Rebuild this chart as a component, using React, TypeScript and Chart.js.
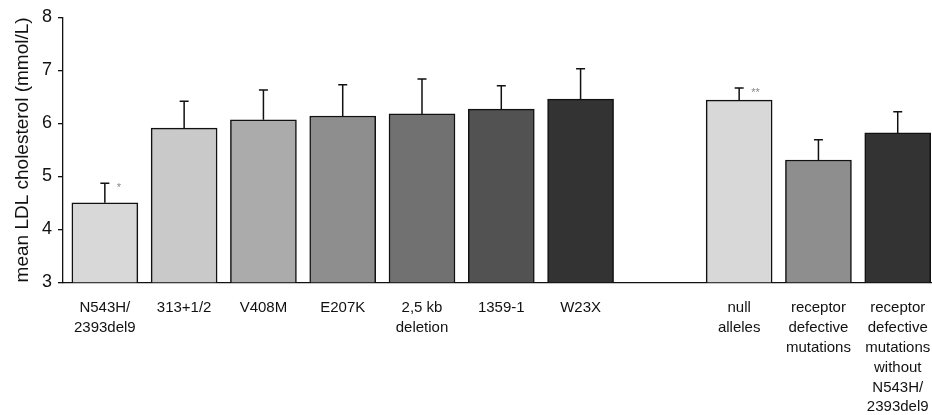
import React, { useEffect, useRef } from "react";
import { Chart, registerables } from "chart.js";

Chart.register(...registerables);

// ---- data ----
const categories: string[][] = [
  ["N543H/", "2393del9"],
  ["313+1/2"],
  ["V408M"],
  ["E207K"],
  ["2,5 kb", "deletion"],
  ["1359-1"],
  ["W23X"],
  [""],
  ["null", "alleles"],
  ["receptor", "defective", "mutations"],
  ["receptor", "defective", "mutations", "without", "N543H/", "2393del9"],
];
const means: (number | null)[] = [4.5, 5.91, 6.07, 6.14, 6.18, 6.27, 6.46, null, 6.44, 5.31, 5.82];
const errors: (number | null)[] = [0.37, 0.51, 0.56, 0.59, 0.66, 0.44, 0.57, null, 0.23, 0.38, 0.4];
const significance: string[] = ["*", "", "", "", "", "", "", "", "**", "", ""];
const yTicks: number[] = [3, 4, 5, 6, 7, 8];
const yTitle = "mean LDL cholesterol (mmol/L)";

// ---- styles ----
const barColors = [
  "#d8d8d8", "#c9c9c9", "#ababab", "#8e8e8e", "#717171", "#525252", "#333333",
  "#ffffff", "#d8d8d8", "#8e8e8e", "#333333",
];
const FONT = "'Liberation Sans', Arial, Helvetica, sans-serif";

const errorBarPlugin = {
  id: "errorBars",
  afterDatasetsDraw(chart: any) {
    const { ctx, scales } = chart;
    const xs = scales.x;
    const ys = scales.y;
    ctx.save();
    means.forEach((m, i) => {
      const e = errors[i];
      if (m == null || e == null) return;
      const x = xs.getPixelForValue(i);
      const yBar = ys.getPixelForValue(m);
      const yTop = ys.getPixelForValue(m + e);
      ctx.strokeStyle = "#111";
      ctx.lineWidth = 1.5;
      ctx.beginPath();
      ctx.moveTo(x, yBar);
      ctx.lineTo(x, yTop);
      ctx.moveTo(x - 4.5, yTop);
      ctx.lineTo(x + 4.5, yTop);
      ctx.stroke();
      const s = significance[i];
      if (s) {
        ctx.fillStyle = "#888";
        ctx.font = `11px ${FONT}`;
        ctx.textAlign = "left";
        ctx.textBaseline = "top";
        ctx.fillText(s, x + 12, yTop - 0.6);
      }
    });
    ctx.restore();
  },
};

export default function App() {
  const ref = useRef<HTMLCanvasElement>(null);

  useEffect(() => {
    if (!ref.current) return;
    const pitch = (932 - 63) / 10.96;
    const xMin = -(104.85 - 63) / pitch;
    const xMax = (932 - 104.85) / pitch;
    const chart = new Chart(ref.current, {
      type: "bar",
      data: {
        datasets: [
          {
            data: means.map((v, i) => ({ x: i, y: v })) as any,
            backgroundColor: barColors,
            borderColor: "#111",
            borderWidth: 1.5,
            barThickness: 66,
          },
        ],
      },
      options: {
        responsive: false,
        animation: false,
        layout: { padding: { top: 17.5, left: 0, right: 0, bottom: 0 } },
        plugins: {
          legend: { display: false },
          tooltip: { enabled: false },
        },
        scales: {
          x: {
            type: "linear",
            offset: false,
            min: xMin,
            max: xMax,
            grid: { display: false },
            border: { display: true, color: "#111", width: 1.3 },
            ticks: {
              autoSkip: false,
              maxRotation: 0,
              minRotation: 0,
              padding: 8,
              color: "#111",
              font: { family: FONT, size: 15, lineHeight: 1.32 },
              callback: (v: any) => categories[Math.round(Number(v))] || "",
            },
            afterBuildTicks: (s: any) => {
              s.ticks = categories.map((_, i) => ({ value: i }));
            },
            afterFit: (s: any) => {
              s.height = 415 - 282.3;
              s.paddingLeft = 0;
              s.paddingRight = 0;
            },
          },
          y: {
            type: "linear",
            min: 3,
            max: 8,
            grid: { drawOnChartArea: false, drawTicks: true, tickLength: 5, color: "#111", lineWidth: 1.3 },
            border: { display: true, color: "#111", width: 1.3 },
            ticks: {
              padding: 6,
              color: "#111",
              font: { family: FONT, size: 18 },
              callback: (v: any) => String(v),
            },
            afterBuildTicks: (s: any) => {
              s.ticks = yTicks.map((v) => ({ value: v }));
            },
            title: {
              display: true,
              text: yTitle,
              color: "#111",
              font: { family: FONT, size: 19 },
              padding: { top: 11.5, bottom: 0 },
            },
            afterFit: (s: any) => {
              s.width = 63;
              s.paddingTop = 0;
              s.paddingBottom = 0;
            },
          },
        },
      },
      plugins: [errorBarPlugin],
    });
    return () => chart.destroy();
  }, []);

  return (
    <div style={{ position: "fixed", left: 0, top: 0, width: 932, height: 415, background: "#fff" }}>
      <canvas ref={ref} width={932} height={415} />
    </div>
  );
}
